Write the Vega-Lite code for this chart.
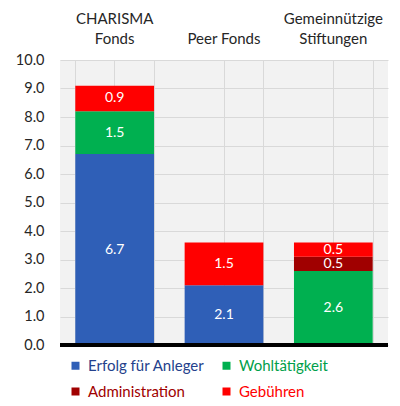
{
  "$schema": "https://vega.github.io/schema/vega-lite/v6.json",
  "width": 328,
  "height": 285,
  "autosize": {"type": "none"},
  "padding": {"left": 60, "top": 60, "right": 12, "bottom": 61},
  "background": "white",
  "config": {
    "font": "Lato",
    "view": {"fill": "#f2f2f2", "stroke": null},
    "axis": {"gridColor": "#d9d9d9", "gridWidth": 1, "labelColor": "#262626", "labelFont": "Lato"},
    "axisY": {"values": [0,1,2,3,4,5,6,7,8,9,10], "labelOverlap": false, "domain": false, "ticks": false, "labelFontSize": 14.5, "labelPadding": 16, "grid": true, "title": null}
  },
  "data": {
    "values": [
      {"cat": "CHARISMA Fonds", "k": "Erfolg für Anleger", "v": 6.7},
      {"cat": "CHARISMA Fonds", "k": "Wohltätigkeit", "v": 1.5},
      {"cat": "CHARISMA Fonds", "k": "Gebühren", "v": 0.9},
      {"cat": "Peer Fonds", "k": "Erfolg für Anleger", "v": 2.1},
      {"cat": "Peer Fonds", "k": "Gebühren", "v": 1.5},
      {"cat": "Gemeinnützige Stiftungen", "k": "Wohltätigkeit", "v": 2.6},
      {"cat": "Gemeinnützige Stiftungen", "k": "Administration", "v": 0.5},
      {"cat": "Gemeinnützige Stiftungen", "k": "Gebühren", "v": 0.5}
    ]
  },
  "transform": [
    {"calculate": "indexof(['Erfolg für Anleger','Wohltätigkeit','Administration','Gebühren'], datum.k)", "as": "o"}
  ],
  "layer": [
    {
      "mark": {"type": "bar"},
      "encoding": {
        "x": {
          "field": "cat", "type": "nominal", "sort": ["CHARISMA Fonds", "Peer Fonds", "Gemeinnützige Stiftungen"],
          "scale": {"paddingInner": 0.28, "paddingOuter": 0.14},
          "axis": {
            "orient": "top", "title": null, "labelAngle": 0, "domain": false, "ticks": false,
            "labelFontSize": 15, "labelPadding": 37, "labelLineHeight": 20.5, "labelBaseline": "alphabetic",
            "labelExpr": "datum.label == 'Peer Fonds' ? ['', 'Peer Fonds'] : split(datum.label, ' ')",
            "grid": true
          }
        },
        "y": {
          "field": "v", "type": "quantitative", "stack": "zero",
          "scale": {"domain": [0, 10]},
          "axis": {"format": ".1f"}
        },
        "color": {
          "field": "k", "type": "nominal",
          "scale": {
            "domain": ["Erfolg für Anleger", "Wohltätigkeit", "Administration", "Gebühren"],
            "range": ["#2f5fb7", "#00b050", "#a00000", "#ff0000"]
          },
          "legend": {
            "title": null, "orient": "none", "legendX": 8, "legendY": 298, "direction": "horizontal",
            "columns": 2, "symbolType": "square", "symbolSize": 64, "symbolStrokeWidth": 0,
            "labelFontSize": 15, "labelOffset": 5, "rowPadding": 10, "columnPadding": 14,
            "labelLimit": 300,
            "encode": {
              "labels": {
                "update": {
                  "fill": {"signal": "datum.value == 'Erfolg für Anleger' ? '#24418c' : datum.value == 'Wohltätigkeit' ? '#00a04a' : datum.value == 'Administration' ? '#a00000' : '#ff0000'"}
                }
              }
            }
          }
        },
        "order": {"field": "o", "type": "quantitative"}
      }
    },
    {
      "transform": [
        {"stack": "v", "groupby": ["cat"], "sort": [{"field": "o"}], "as": ["v0", "v1"]},
        {"calculate": "(datum.v0 + datum.v1) / 2", "as": "mid"}
      ],
      "mark": {"type": "text", "color": "white", "fontSize": 14, "baseline": "middle"},
      "encoding": {
        "x": {
          "field": "cat", "type": "nominal", "sort": ["CHARISMA Fonds", "Peer Fonds", "Gemeinnützige Stiftungen"],
          "axis": {"orient": "bottom", "title": null, "labels": false, "ticks": false, "domain": false, "grid": true, "tickBand": "extent"}
        },
        "y": {"field": "mid", "type": "quantitative", "axis": {"format": ".1f"}},
        "text": {"field": "v", "type": "quantitative", "format": ".1f"}
      }
    },
    {
      "mark": {"type": "rule", "color": "black", "strokeWidth": 3},
      "encoding": {"y": {"datum": 0, "type": "quantitative", "axis": {"format": ".1f"}}}
    }
  ],
  "resolve": {"axis": {"x": "independent"}}
}
